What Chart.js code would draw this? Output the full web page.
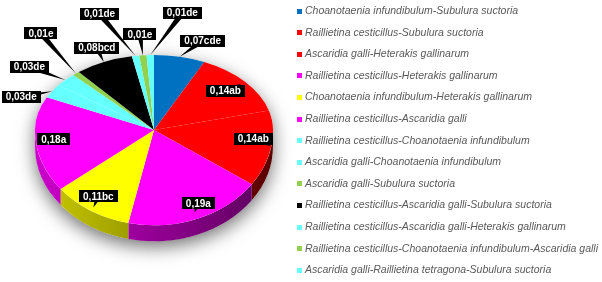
<!DOCTYPE html>
<html>
<head>
<meta charset="utf-8">
<script src="https://cdn.jsdelivr.net/npm/chart.js@4.4.1/dist/chart.umd.min.js"></script>
<style>
  html, body { margin: 0; padding: 0; background: #fff; }
  canvas { display: block; }
</style>
</head>
<body>
<canvas id="pieChart" width="602" height="282"></canvas>
<script>
const categories = [
  "Choanotaenia infundibulum-Subulura suctoria",
  "Raillietina cesticillus-Subulura suctoria",
  "Ascaridia galli-Heterakis gallinarum",
  "Raillietina cesticillus-Heterakis gallinarum",
  "Choanotaenia infundibulum-Heterakis gallinarum",
  "Raillietina cesticillus-Ascaridia galli",
  "Raillietina cesticillus-Choanotaenia infundibulum",
  "Ascaridia galli-Choanotaenia infundibulum",
  "Ascaridia galli-Subulura suctoria",
  "Raillietina cesticillus-Ascaridia galli-Subulura suctoria",
  "Raillietina cesticillus-Ascaridia galli-Heterakis gallinarum",
  "Raillietina cesticillus-Choanotaenia infundibulum-Ascaridia galli",
  "Ascaridia galli-Raillietina tetragona-Subulura suctoria"
];
const values = [0.07, 0.14, 0.14, 0.19, 0.11, 0.18, 0.03, 0.03, 0.01, 0.08, 0.01, 0.01, 0.01];
const groups = ["cde", "ab", "ab", "a", "bc", "a", "de", "de", "e", "bcd", "de", "e", "de"];
const colors = ["#0070C0", "#FF0000", "#FF0000", "#FF00FF", "#FFFF00", "#FF00FF", "#66FFFF",
                "#66FFFF", "#92D050", "#000000", "#66FFFF", "#92D050", "#66FFFF"];

// callout placement: [radius fraction of the tip, box dx, box dy]
const labelLayout = [
  [1.0, 23, -16], [0.96, -16, 7], [1.0, -18, -7], [0.93, 4, -9], [0.96, 5, -11],
  [1.0, 18, -1], [1.0, -31, 6], [1.0, -36, -13], [1.0, -35, -40], [1.0, -7, -14],
  [1.0, -36, -42], [1.0, -3, -21], [1.0, 32, -42]
];

// tilt of the pie: upper half / lower half squash, rim depth
const KT = 0.63, KB = 0.80, DEPTH = 16;

function shade(hex, f) {
  const n = parseInt(hex.slice(1), 16);
  const r = Math.round(((n >> 16) & 255) * f);
  const g = Math.round(((n >> 8) & 255) * f);
  const b = Math.round((n & 255) * f);
  return `rgb(${r},${g},${b})`;
}

function project(arc, frac) {
  const t = (arc.startAngle + arc.endAngle) / 2;
  const s = Math.sin(t);
  return {
    x: arc.x + frac * arc.outerRadius * Math.cos(t),
    y: arc.y + frac * arc.outerRadius * s * (s < 0 ? KT : KB)
  };
}

const pie3d = {
  id: "pie3d",
  beforeDatasetsDraw(chart) {
    const ctx = chart.ctx;
    const arcs = chart.getDatasetMeta(0).data;
    const cx = arcs[0].x, cy = arcs[0].y, r = arcs[0].outerRadius;

    // soft shadow under the whole disc
    ctx.save();
    ctx.shadowColor = "rgba(0,0,0,0.55)";
    ctx.shadowBlur = 18;
    ctx.shadowOffsetY = 6;
    ctx.fillStyle = "#fff";
    ctx.beginPath();
    ctx.ellipse(cx, cy, r, KT * r, 0, Math.PI, 2 * Math.PI);
    ctx.ellipse(cx, cy + DEPTH, r, KB * r, 0, 0, Math.PI);
    ctx.closePath();
    ctx.fill();
    ctx.restore();

    // visible rim
    arcs.forEach((arc, i) => {
      const a = Math.max(arc.startAngle, 0);
      const b = Math.min(arc.endAngle, Math.PI);
      if (b <= a) return;
      const grad = ctx.createLinearGradient(cx - r, 0, cx + r, 0);
      grad.addColorStop(0, shade(colors[i], 0.8));
      grad.addColorStop(1, shade(colors[i], 0.35));
      ctx.fillStyle = grad;
      ctx.beginPath();
      ctx.ellipse(cx, cy, r, KB * r, 0, a, b);
      ctx.ellipse(cx, cy + DEPTH, r, KB * r, 0, b, a, true);
      ctx.closePath();
      ctx.fill();
    });

    // top face, drawn in two halves for the perspective
    [[0, cy, KT], [cy, chart.height - cy, KB]].forEach(([y0, h, k]) => {
      ctx.save();
      ctx.beginPath();
      ctx.rect(0, y0, chart.width, h);
      ctx.clip();
      ctx.translate(cx, cy);
      ctx.scale(1, k);
      ctx.translate(-cx, -cy);
      arcs.forEach(arc => arc.draw(ctx));
      ctx.restore();
    });
    return false;
  },
  afterDraw(chart) {
    const ctx = chart.ctx;
    const arcs = chart.getDatasetMeta(0).data;

    // callout labels
    ctx.save();
    ctx.font = "bold 10px 'Liberation Sans', Arial, sans-serif";
    ctx.textAlign = "center";
    ctx.textBaseline = "middle";
    arcs.forEach((arc, i) => {
      const [frac, dx, dy] = labelLayout[i];
      const tip = project(arc, frac);
      const bx = tip.x + dx, by = tip.y + dy;
      const text = values[i].toFixed(2).replace(".", ",") + groups[i];
      const w = ctx.measureText(text).width + 8, h = 12;
      const len = Math.hypot(tip.x - bx, tip.y - by) || 1;
      const px = -(tip.y - by) / len * 3, py = (tip.x - bx) / len * 3;
      ctx.fillStyle = "#000";
      ctx.beginPath();
      ctx.moveTo(bx + px, by + py);
      ctx.lineTo(tip.x, tip.y);
      ctx.lineTo(bx - px, by - py);
      ctx.closePath();
      ctx.fill();
      ctx.fillRect(Math.round(bx - w / 2), Math.round(by - h / 2), Math.round(w), h);
      ctx.fillStyle = "#fff";
      ctx.fillText(text, bx, by + 0.5);
    });
    ctx.restore();

    // legend on the right
    ctx.save();
    ctx.font = "italic 10.5px 'Liberation Sans', Arial, sans-serif";
    ctx.textAlign = "left";
    ctx.textBaseline = "middle";
    categories.forEach((name, i) => {
      const y = 11 + i * 21.6;
      ctx.fillStyle = colors[i];
      ctx.fillRect(297, Math.round(y - 2.5), 5, 5);
      ctx.fillStyle = "#595959";
      ctx.fillText(name, 305, y);
    });
    ctx.restore();
  }
};

new Chart(document.getElementById("pieChart").getContext("2d"), {
  type: "pie",
  data: {
    labels: categories,
    datasets: [{ data: values, backgroundColor: colors, borderWidth: 0 }]
  },
  options: {
    responsive: false,
    animation: false,
    layout: { padding: { left: 35, right: 329, top: 11, bottom: 33 } },
    plugins: { legend: { display: false }, tooltip: { enabled: false } }
  },
  plugins: [pie3d]
});
</script>
</body>
</html>
